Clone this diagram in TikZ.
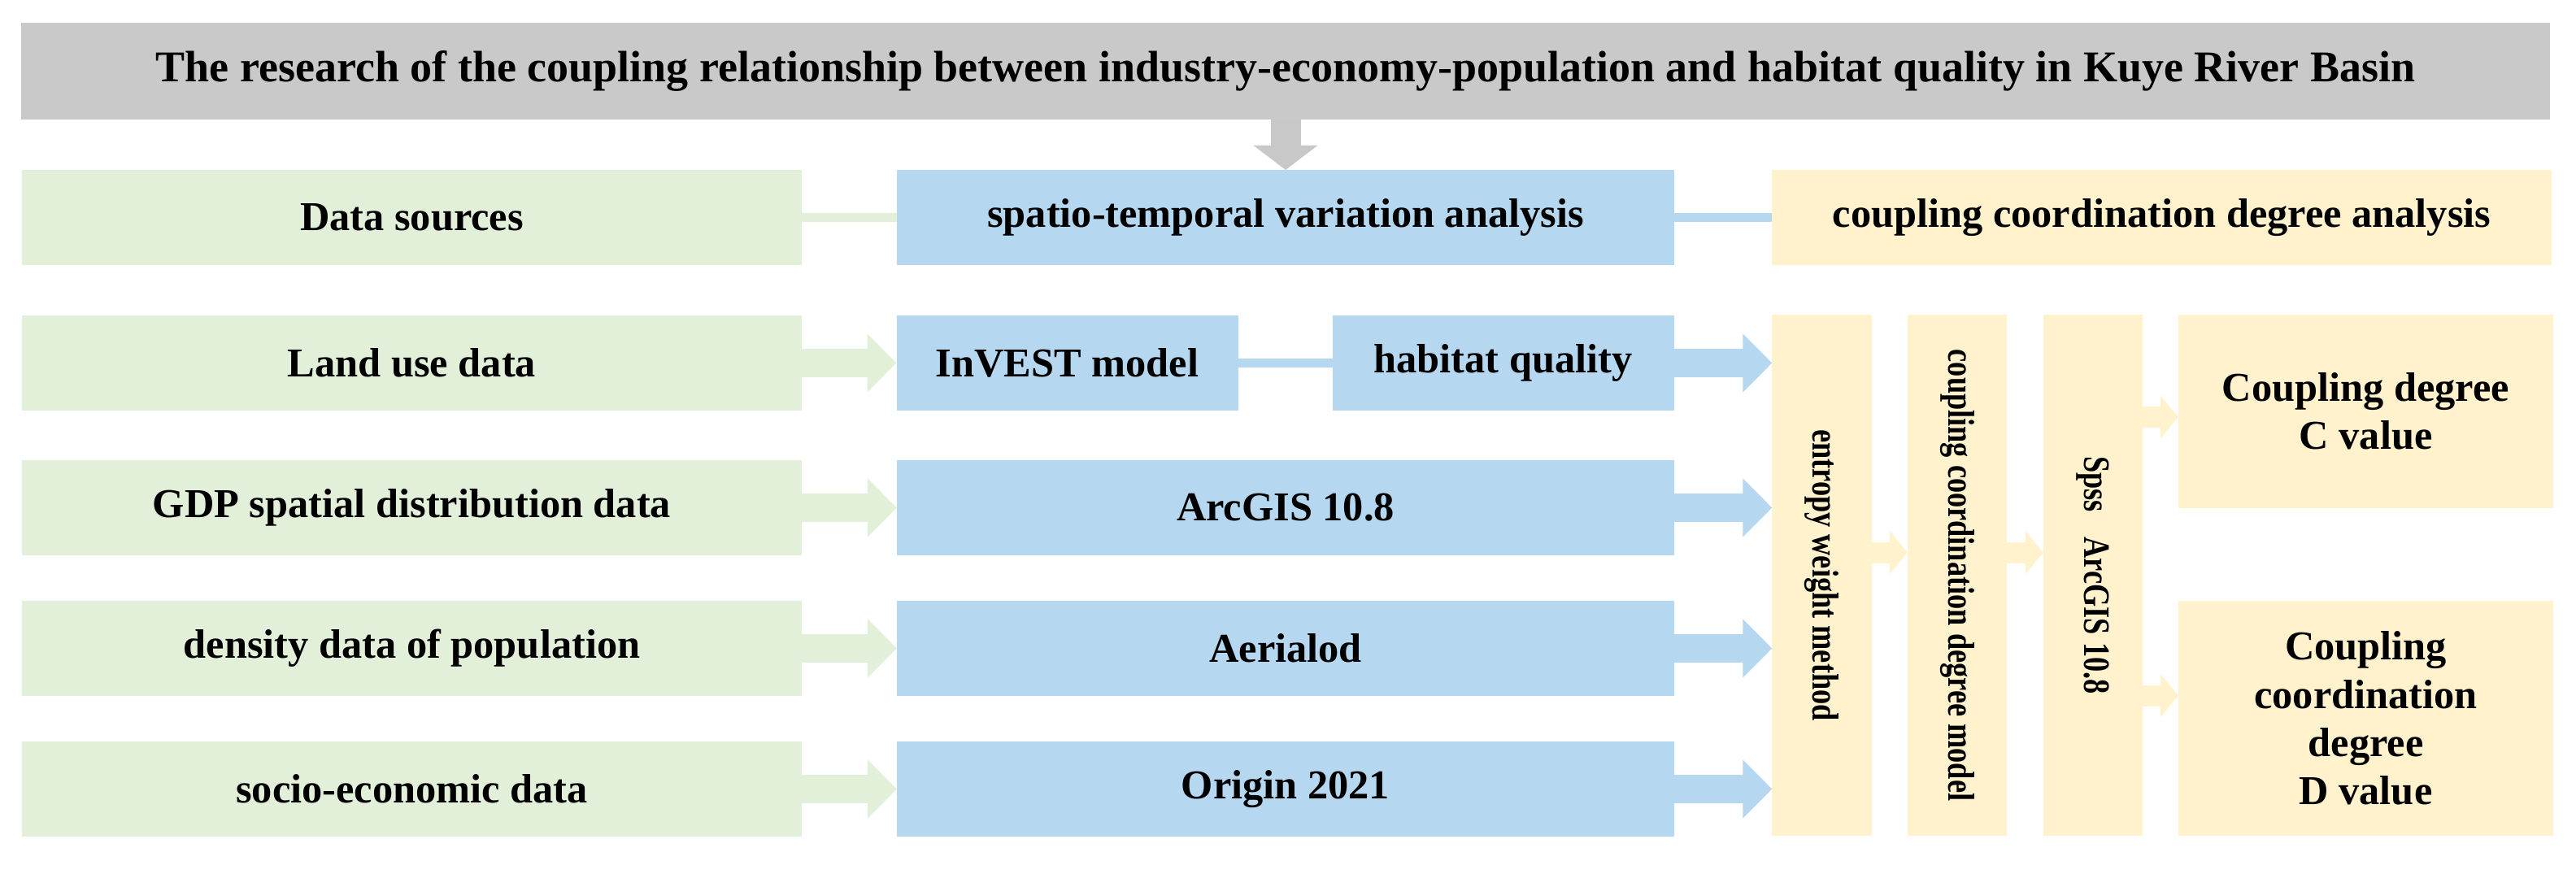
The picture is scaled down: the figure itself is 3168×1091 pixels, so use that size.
\documentclass[tikz,border=0pt]{standalone}
\usepackage{fontspec}
\setmainfont{Liberation Serif}
\usepackage{graphicx}
\usetikzlibrary{arrows.meta,calc}
\definecolor{gfill}{HTML}{E2F0D9}
\definecolor{bfill}{HTML}{B5D7EF}
\definecolor{yfill}{HTML}{FFF2CC}
\definecolor{tfill}{HTML}{C9C9C9}
\definecolor{tarr}{HTML}{C8C8C8}
\newcommand{\vtext}[1]{\rotatebox{-90}{\scalebox{0.79}[1]{#1}}}
\begin{document}
\begin{tikzpicture}[x=0.25pt,y=-0.25pt,
  box/.style={inner sep=0pt, outer sep=0pt, align=center, text=black,
    font=\bfseries\fontsize{12.6}{14.8}\selectfont},
  gbox/.style={box, fill=gfill, minimum width=239.75pt, minimum height=29.25pt},
  bwide/.style={box, fill=bfill, minimum width=239pt, minimum height=29.25pt},
  bhalf/.style={box, fill=bfill, minimum width=105pt, minimum height=29.25pt},
  yhead/.style={box, fill=yfill, minimum width=239.75pt, minimum height=29.25pt},
  yvert/.style={box, fill=yfill, minimum width=30.6pt, minimum height=160.25pt,
    font=\bfseries\fontsize{11.5}{13}\selectfont},
  yres/.style={box, fill=yfill, minimum width=115.25pt},
  garrow/.style={draw=gfill, line width=8.75pt, -{Triangle[length=9pt,width=17.5pt]}},
  barrow/.style={draw=bfill, line width=8.75pt, -{Triangle[length=9pt,width=17.5pt]}},
  yarrow/.style={draw=yfill, line width=6.5pt, -{Triangle[length=5.5pt,width=13pt]}},
  tarrow/.style={draw=tarr, line width=9.25pt, -{Triangle[length=7.5pt,width=19.25pt]}},
  gline/.style={draw=gfill, line width=2.75pt},
  bline/.style={draw=bfill, line width=2.75pt}]
\useasboundingbox (0,0) rectangle (3168,1091);
\fill[white] (0,0) rectangle (3168,1091);

% title
\node[box, fill=tfill, minimum width=777.5pt, minimum height=29.75pt,
  font=\bfseries\fontsize{13.5}{16}\selectfont] (title) at (1581,87.5)
  {The research of the coupling relationship between industry-economy-population and habitat quality in Kuye River Basin};

% header row
\node[gbox] (ds) at (506.5,267.5) {Data sources};
\node[bwide] (spatio) at (1581,267.5) {spatio-temporal variation analysis};
\node[yhead] (ccda) at (2658.5,267.5) {coupling coordination degree analysis};

% data rows
\node[gbox] (land) at (506.5,446.5) {Land use data};
\node[bhalf] (invest) at (1312.5,446.5) {InVEST model};
\node[bhalf] (habitat) at (1848.5,446.5) {habitat quality};

\node[gbox] (gdp) at (506.5,624.5) {GDP spatial distribution data};
\node[bwide] (arc) at (1581,624.5) {ArcGIS 10.8};

\node[gbox] (dens) at (506.5,797.5) {density data of population};
\node[bwide] (aer) at (1581,797.5) {Aerialod};

\node[gbox] (socio) at (506.5,970.5) {socio-economic data};
\node[bwide] (ori) at (1581,970.5) {Origin 2021};

% vertical method boxes
\node[yvert] (entropy) at (2240.5,707.5) {\vtext{entropy weight method}};
\node[yvert] (ccdm) at (2407,707.5) {\vtext{coupling coordination degree model}};
\node[yvert] (spss) at (2574,707.5) {\vtext{Spss\hspace{0.85em}ArcGIS 10.8}};

% results
\node[yres, minimum height=59.5pt] (cval) at (2909.5,506) {Coupling degree\\C value};
\node[yres, minimum height=72.25pt] (dval) at (2909.5,883.5) {Coupling\\coordination\\degree\\D value};

% connectors
\draw[tarrow] (title.south -| spatio.north) -- (spatio.north);
\draw[gline] (ds.east) -- (spatio.west);
\draw[bline] (spatio.east) -- (ccda.west);
\draw[bline] (invest.east) -- (habitat.west);

\draw[garrow] (land.east) -- (invest.west);
\draw[garrow] (gdp.east) -- (arc.west);
\draw[garrow] (dens.east) -- (aer.west);
\draw[garrow] (socio.east) -- (ori.west);

\draw[barrow] (habitat.east) -- (habitat.east -| entropy.west);
\draw[barrow] (arc.east) -- (arc.east -| entropy.west);
\draw[barrow] (aer.east) -- (aer.east -| entropy.west);
\draw[barrow] (ori.east) -- (ori.east -| entropy.west);

\coordinate (m1) at ($(ccdm.west)+(0,-28)$);
\coordinate (m2) at ($(spss.west)+(0,-28)$);
\coordinate (cin) at ($(cval.west)+(0,7)$);
\coordinate (din) at ($(dval.west)+(0,-28)$);
\draw[yarrow] (entropy.east |- m1) -- (m1);
\draw[yarrow] (ccdm.east |- m2) -- (m2);
\draw[yarrow] (spss.east |- cin) -- (cin);
\draw[yarrow] (spss.east |- din) -- (din);
\end{tikzpicture}
\end{document}
